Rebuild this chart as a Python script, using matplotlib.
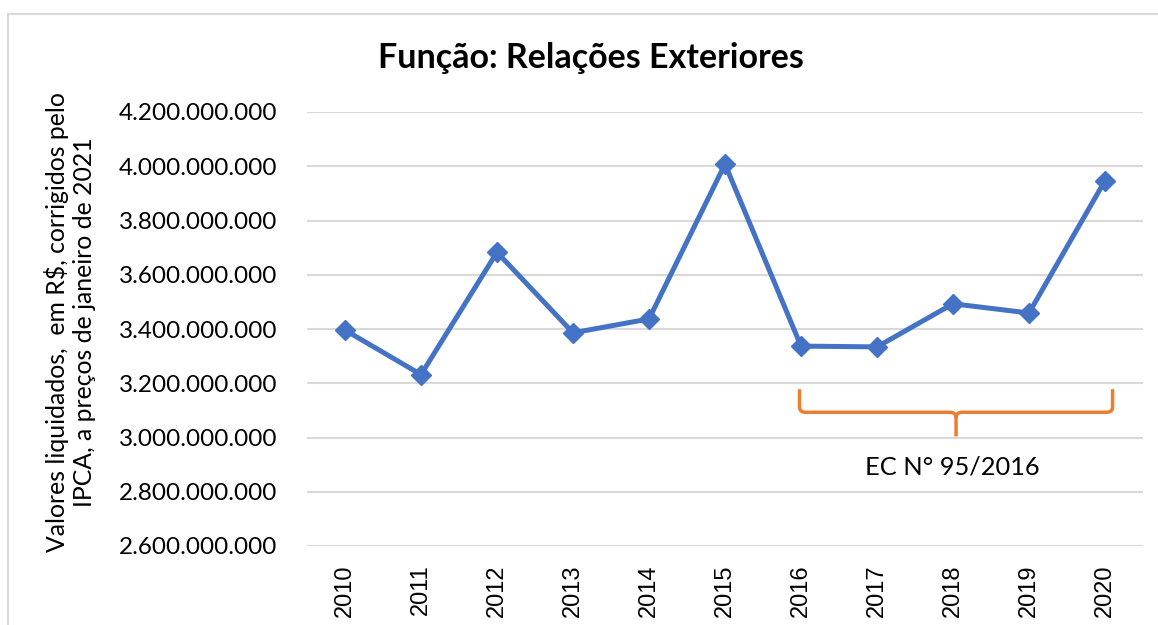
import matplotlib.pyplot as plt
import numpy as np
from matplotlib.patches import Rectangle, PathPatch
from matplotlib.path import Path
from matplotlib.ticker import FuncFormatter

anos = ["2010", "2011", "2012", "2013", "2014", "2015",
        "2016", "2017", "2018", "2019", "2020"]
valores = [3396e6, 3232e6, 3683e6, 3386e6, 3437e6, 4008e6,
           3337e6, 3334e6, 3493e6, 3459e6, 3947e6]
yticks = np.arange(2.6e9, 4.2e9 + 1, 0.2e9)

fig = plt.figure(figsize=(11.58, 6.25), dpi=100)
ax = fig.add_axes([307 / 1158, 1 - 546 / 625, 836 / 1158, 434 / 625])

x = np.arange(len(anos))
ax.plot(x, valores, color="#4472C4", lw=3.6, marker="D", ms=10.5,
        solid_joinstyle="miter")

ax.set_xlim(-0.5, len(anos) - 0.5)
ax.set_ylim(yticks[0], yticks[-1])
ax.set_yticks(yticks)
ax.yaxis.set_major_formatter(FuncFormatter(lambda v, p: f"{v:,.0f}".replace(",", ".")))
ax.set_xticks(x)
ax.set_xticklabels(anos, rotation=90, family="Liberation Sans", fontsize=17)
for lb in ax.get_yticklabels():
    lb.set_family("Lato")
    lb.set_fontsize(17.5)
ax.tick_params(length=0)
ax.tick_params(axis="y", pad=21.5)
ax.tick_params(axis="x", pad=13)
ax.grid(axis="y", color="#d9d9d9", lw=1.5)
ax.set_axisbelow(True)
for s in ax.spines.values():
    s.set_visible(False)

# chave do periodo EC 95
i0 = anos.index("2016") - 0.02
i1 = anos.index("2020") + 0.1
im = (i0 + i1) / 2
ytop, ymid, ytip = 3.178e9, 3.093e9, 3.004e9
dx, dy = 0.08, 0.02e9
verts = [(i0, ytop), (i0, ymid + dy), (i0, ymid), (i0 + dx, ymid),
         (im - dx, ymid), (im, ymid), (im, ymid - dy), (im, ytip),
         (im, ymid - dy), (im, ymid), (im + dx, ymid),
         (i1 - dx, ymid), (i1, ymid), (i1, ymid + dy), (i1, ytop)]
codes = [Path.MOVETO, Path.LINETO, Path.CURVE3, Path.CURVE3,
         Path.LINETO, Path.CURVE3, Path.CURVE3, Path.LINETO,
         Path.MOVETO, Path.CURVE3, Path.CURVE3,
         Path.LINETO, Path.CURVE3, Path.CURVE3, Path.LINETO]
ax.add_patch(PathPatch(Path(verts, codes), fill=False, ec="#ED7D31", lw=2.5))
ax.text(im - 0.05, 2.893e9, "EC N° 95/2016", ha="center", va="center",
        family="Lato", fontsize=18.3)

fig.text(591 / 1158, 1 - 58 / 625, "Função: Relações Exteriores", ha="center",
         va="center", family="Lato", fontweight="bold", fontsize=24.5)
fig.text(70 / 1158, 1 - 322 / 625,
         "Valores liquidados,  em R$, corrigidos pelo\nIPCA, a preços de janeiro de 2021",
         rotation=90, ha="center", va="center", family="Lato", fontsize=17.8,
         linespacing=1.2, multialignment="center")

fig.add_artist(Rectangle((8 / 1158, -0.1), 1.2, 1 - 14 / 625 + 0.1,
                         transform=fig.transFigure, fill=False,
                         ec="#d9d9d9", lw=1.5))

fig.savefig("out.png", dpi=100)
